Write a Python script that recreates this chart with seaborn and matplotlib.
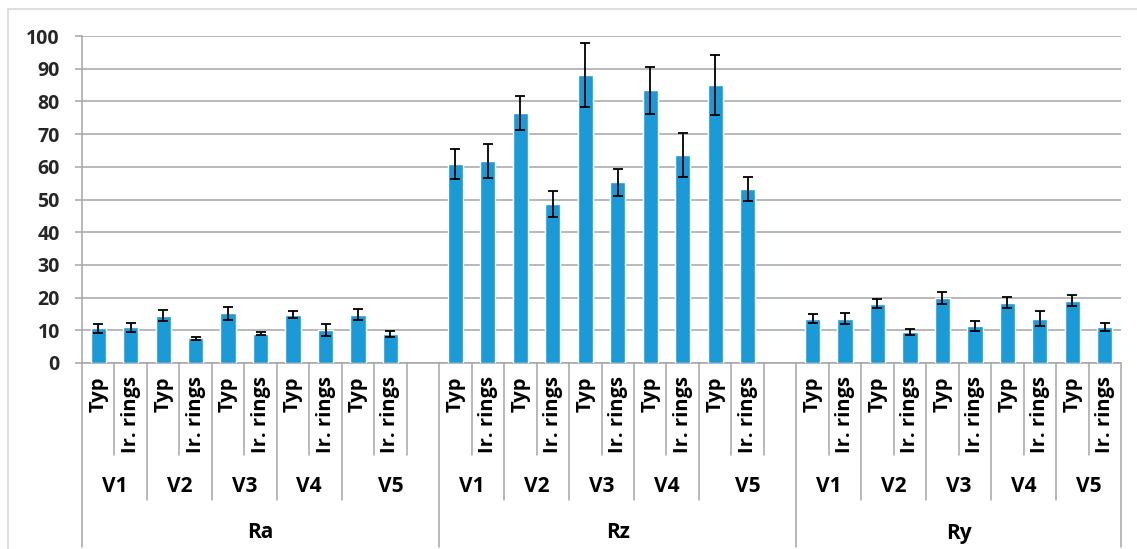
import matplotlib
matplotlib.use("Agg")
import matplotlib.pyplot as plt
from matplotlib.lines import Line2D
from matplotlib.transforms import blended_transform_factory
import numpy as np
import pandas as pd
import seaborn as sns

# ---- data -------------------------------------------------------------
groups = ["Ra", "Rz", "Ry"]
variants = ["V1", "V2", "V3", "V4", "V5"]
kinds = ["Typ", "Ir. rings"]

ra_mean = [10.6, 10.9, 14.5, 7.5, 15.2, 9.0, 14.8, 10.1, 14.8, 9.0]
ra_err = [1.3, 1.4, 1.6, 0.5, 2.0, 0.5, 1.0, 1.8, 1.6, 0.9]
rz_mean = [60.8, 61.8, 76.6, 48.6, 88.2, 55.2, 83.4, 63.6, 85.0, 53.2]
rz_err = [4.5, 5.2, 5.2, 4.1, 9.8, 4.1, 7.2, 6.6, 9.1, 3.7]
ry_mean = [13.5, 13.5, 18.1, 9.6, 19.9, 11.3, 18.4, 13.5, 19.1, 11.0]
ry_err = [1.4, 1.7, 1.4, 0.9, 1.9, 1.4, 1.7, 2.3, 1.7, 1.1]

y_ticks = [0, 10, 20, 30, 40, 50, 60, 70, 80, 90, 100]

means = {"Ra": ra_mean, "Rz": rz_mean, "Ry": ry_mean}
errs = {"Ra": ra_err, "Rz": rz_err, "Ry": ry_err}

# one category slot per bar; Ra and Rz end with a blank slot
order = []
rows = []
for g in groups:
    i = 0
    for v in variants:
        for k in kinds:
            key = f"{g}|{v}|{k}"
            order.append(key)
            rows.append({"slot": key, "group": g, "variant": v, "kind": k,
                         "value": means[g][i], "err": errs[g][i]})
            i += 1
    if g != groups[-1]:
        order.append(f"{g}|V5|blank")
df = pd.DataFrame(rows)

# ---- figure -----------------------------------------------------------
W, H = 1137, 549
sns.set_theme(style="white")
plt.rcParams["font.family"] = ["Open Sans", "DejaVu Sans"]

fig = plt.figure(figsize=(W / 100, H / 100), dpi=100)
fig.patch.set_facecolor("white")
ax_left, ax_right, ax_top, ax_bot = 82, 1121, 36, 363
ax = fig.add_axes([ax_left / W, 1 - ax_bot / H,
                   (ax_right - ax_left) / W, (ax_bot - ax_top) / H])

bar_color = "#1A9AD6"
grid_color = "#A6A6A6"

sns.barplot(data=df, x="slot", y="value", order=order, color=bar_color,
            saturation=1, width=0.47, errorbar=None, ax=ax, zorder=3)

xpos = [order.index(s) for s in df["slot"]]
ax.errorbar(xpos, df["value"], yerr=df["err"], fmt="none", ecolor="black",
            elinewidth=1.3, capsize=3.6, capthick=1.3, zorder=4)

ax.set_xlim(-0.5, len(order) - 0.5)
ax.set_ylim(0, 100)
ax.set_yticks(y_ticks)
ax.set_yticklabels([str(t) for t in y_ticks], fontsize=14, fontweight="bold")
ax.yaxis.grid(True, color=grid_color, linewidth=1.1, zorder=0)
ax.set_axisbelow(True)
ax.tick_params(axis="y", length=5, width=1.1, color=grid_color, pad=11,
               left=True)
ax.tick_params(axis="x", bottom=False, labelbottom=False)
ax.set_xlabel("")
ax.set_ylabel("")
for side in ["top", "right"]:
    ax.spines[side].set_visible(False)
for side in ["left", "bottom"]:
    ax.spines[side].set_color(grid_color)
    ax.spines[side].set_linewidth(1.1)

# ---- multi-level category axis -----------------------------------------
fy = lambda py: 1 - py / H
tr = blended_transform_factory(ax.transData, fig.transFigure)

def vline(x, y_end):
    fig.add_artist(Line2D([x, x], [fy(ax_bot), fy(y_end)], transform=tr,
                          color=grid_color, linewidth=1.1, clip_on=False))

# level 1 (Typ / Ir. rings)
for idx, key in enumerate(order):
    g, v, k = key.split("|")
    if k != "blank":
        fig.text(idx, fy(376), k, transform=tr, rotation=90, ha="center",
                 va="top", fontsize=14.5, fontweight="bold", color="black")

# separators
n = len(order)
for b in range(n + 1):
    left_key = order[b - 1] if b > 0 else None
    right_key = order[b] if b < n else None
    lg = left_key.split("|")[0] if left_key else None
    rg = right_key.split("|")[0] if right_key else None
    lv = left_key.split("|")[1] if left_key else None
    rv = right_key.split("|")[1] if right_key else None
    if lg != rg:
        vline(b - 0.5, 547)
    elif lv != rv:
        vline(b - 0.5, 500)
    else:
        vline(b - 0.5, 455)

# level 2 (V1..V5) and level 3 (Ra/Rz/Ry)
for g in groups:
    idx_g = [i for i, k in enumerate(order) if k.startswith(g + "|")]
    fig.text(np.mean(idx_g), fy(533), g, transform=tr, ha="center",
             va="center", fontsize=15, fontweight="bold", color="black")
    for v in variants:
        idx_v = [i for i, k in enumerate(order) if k.startswith(f"{g}|{v}|")]
        fig.text(np.mean(idx_v), fy(487), v, transform=tr, ha="center",
                 va="center", fontsize=15, fontweight="bold", color="black")

# outer chart border
border = "#D9D9D9"
fig.add_artist(Line2D([8 / W, 1], [fy(9), fy(9)], transform=fig.transFigure,
                      color=border, linewidth=1.2))
fig.add_artist(Line2D([8 / W, 8 / W], [0, fy(9)], transform=fig.transFigure,
                      color=border, linewidth=1.2))

fig.savefig("out.png", dpi=100, facecolor="white")
